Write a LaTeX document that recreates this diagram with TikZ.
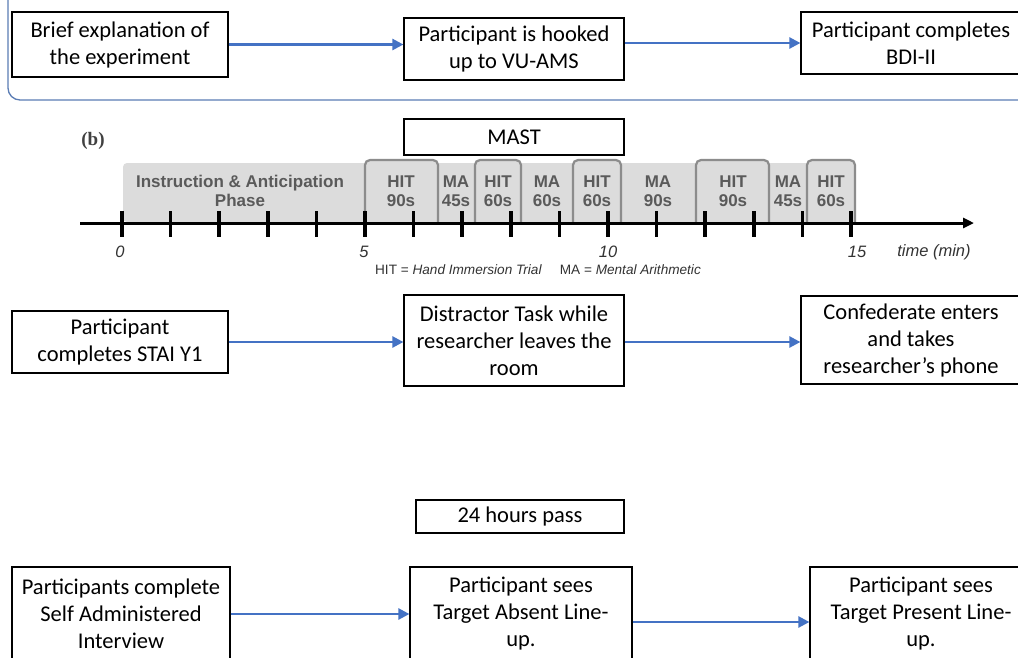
\documentclass[tikz,border=0pt]{standalone}
\usepackage{fontspec}
\setmainfont{Carlito}
\newfontfamily\arialf{Liberation Sans}
\newfontfamily\serifb{Liberation Serif}
\usetikzlibrary{arrows.meta}
\definecolor{arrblue}{HTML}{4472C4}
\definecolor{framec}{HTML}{5B7DB5}
\definecolor{tlgray}{HTML}{DCDCDC}
\definecolor{tledge}{HTML}{8C8C8C}
\definecolor{tltext}{HTML}{5A5A5A}
\begin{document}
\begin{tikzpicture}[x=1pt,y=-1pt,
  box/.style={draw=black, line width=1.2pt, fill=white, align=center,
    font=\fontsize{22.5}{27}\selectfont, inner sep=2pt},
  flow/.style={draw=arrblue, line width=2.4pt, -{Triangle[length=11pt,width=11pt]}},
  seg/.style={text=tltext, font=\arialf\bfseries\fontsize{17}{19}\selectfont, align=center, inner sep=0pt},
  hitbox/.style={fill=tlgray, draw=tledge, line width=2.2pt, rounded corners=5pt},
  tick/.style={line width=3.5pt, black},
  axlab/.style={font=\arialf\itshape\fontsize{16.5}{18}\selectfont, text=black!80, inner sep=0pt}
]
\useasboundingbox (0,0) rectangle (1018,657);
\clip (0,0) rectangle (1018,657);
\fill[white] (0,0) rectangle (1018,657);

% top frame
\draw[framec, line width=1.3pt, rounded corners=12pt] (8,-30) rectangle (1060,100);

% row 1
\node[box, minimum width=216pt, minimum height=65pt] (a1) at (120,44.5) {Brief explanation of\\the experiment};
\node[box, minimum width=220pt, minimum height=62pt] (a2) at (514,49) {Participant is hooked\\up to VU-AMS};
\node[box, minimum width=220pt, minimum height=62pt] (a3) at (911,43) {Participant completes\\BDI-II};
\draw[flow] (a1.east) -- (a1.east -| a2.west);
\draw[flow] (a2.east |- a3.west) -- (a3.west);

% MAST
\node[box, minimum width=220pt, minimum height=36pt] (mast) at (514,137) {MAST};

% timeline
\node[font=\serifb\bfseries\fontsize{19}{21}\selectfont, text=black!75, inner sep=0pt] (blabel) at (93,141) {(b)};
\fill[tlgray, rounded corners=4pt] (123,163) rectangle (855,222);
\draw[hitbox] (365,222) -- (365,160) -- (438,160) -- (438,222);
\draw[hitbox] (475,222) -- (475,160) -- (521,160) -- (521,222);
\draw[hitbox] (573,222) -- (573,160) -- (621,160) -- (621,222);
\draw[hitbox] (696,222) -- (696,160) -- (769,160) -- (769,222);
\draw[hitbox] (807,222) -- (807,160) -- (855,160) -- (855,222);
\node[seg] (ph) at (240,191) {Instruction \& Anticipation\\Phase};
\node[seg] (h1) at (401,191) {HIT\\90s};
\node[seg] (m1) at (456,191) {MA\\45s};
\node[seg] (h2) at (498,191) {HIT\\60s};
\node[seg] (m2) at (547,191) {MA\\60s};
\node[seg] (h3) at (597,191) {HIT\\60s};
\node[seg] (m3) at (658,191) {MA\\90s};
\node[seg] (h4) at (733,191) {HIT\\90s};
\node[seg] (m4) at (788,191) {MA\\45s};
\node[seg] (h5) at (831,191) {HIT\\60s};
\coordinate (axs) at (80,223);
\coordinate (axe) at (974,223);
\draw[line width=3pt, -{Triangle[length=11pt,width=10pt]}] (axs) -- (axe);
\foreach \i in {0,...,15} {
  \draw[tick] ({122+48.6*\i},211) -- ({122+48.6*\i},237);
}
\node[axlab] (t0) at (120,252) {0};
\node[axlab] (t5) at (364,252) {5};
\node[axlab] (t10) at (608,252) {10};
\node[axlab] (t15) at (857,252) {15};
\node[axlab] (tm) at (934,252) {time (min)};
\node[font=\arialf\fontsize{13.6}{15}\selectfont, text=black!80, inner sep=0pt] (leg) at (538,270)
  {HIT = \textit{Hand Immersion Trial}\hspace{18pt}MA = \textit{Mental Arithmetic}};

% row 2
\node[box, minimum width=216pt, minimum height=62pt] (b1) at (120,342) {Participant\\completes STAI Y1};
\node[box, minimum width=220pt, minimum height=91pt] (b2) at (514,340.5) {Distractor Task while\\researcher leaves the\\room};
\node[box, minimum width=220pt, minimum height=88pt] (b3) at (911,340) {Confederate enters\\and takes\\researcher’s phone};
\draw[flow] (b1.east) -- (b1.east -| b2.west);
\draw[flow] (b2.east |- b1.east) -- (b2.east |- b1.east -| b3.west);

% 24 hours
\node[box, minimum width=208pt, minimum height=33pt] (h24) at (520,516.5) {24 hours pass};

% row 3
\node[box, minimum width=218pt, minimum height=94pt] (c1) at (121,614) {Participants complete\\Self Administered\\Interview};
\node[box, minimum width=222pt, minimum height=94pt] (c2) at (521,614) {Participant sees\\Target Absent Line-\\up.};
\node[box, minimum width=222pt, minimum height=94pt] (c3) at (921,614) {Participant sees\\Target Present Line-\\up.};
\draw[flow] (c1.east) -- (c1.east -| c2.west);
\coordinate (c2r) at ([yshift=-8pt]c2.east);
\draw[flow] (c2r) -- (c2r -| c3.west);
\end{tikzpicture}
\end{document}
